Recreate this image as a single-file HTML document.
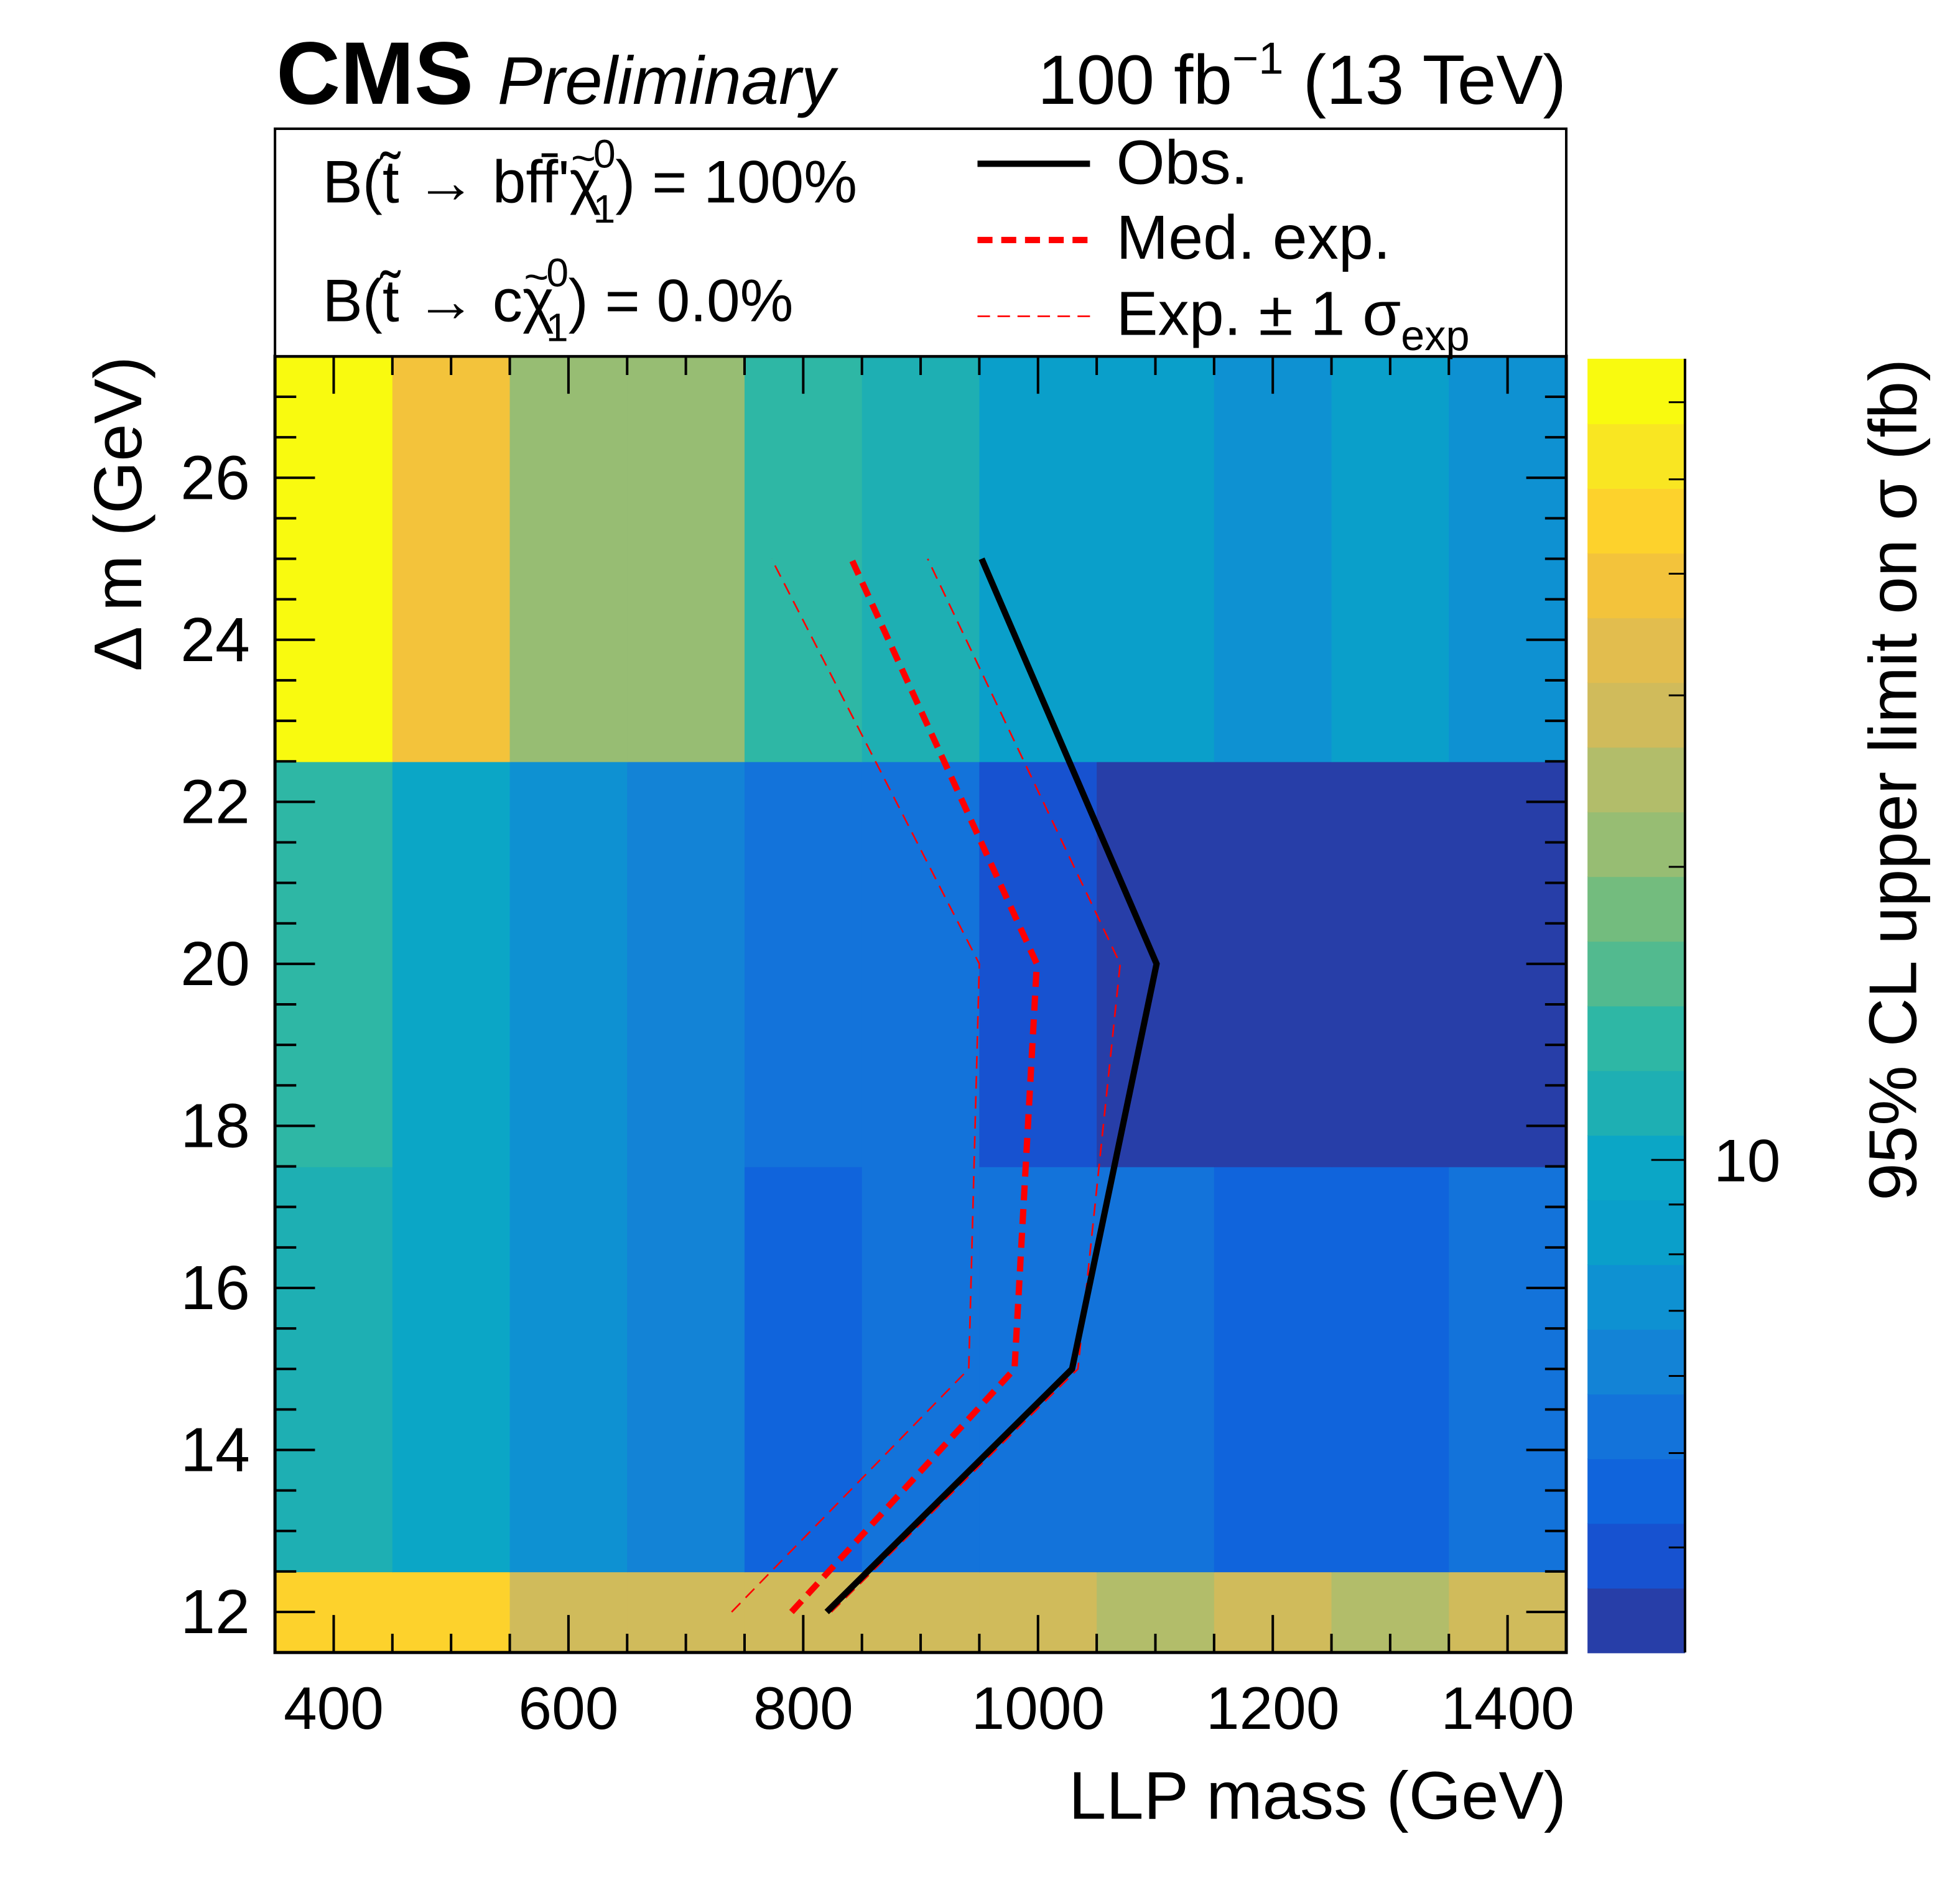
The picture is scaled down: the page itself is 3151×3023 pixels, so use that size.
<!DOCTYPE html>
<html><head><meta charset="utf-8"><style>
html,body{margin:0;padding:0;background:#fff}
svg{display:block}
text{font-family:"Liberation Sans",Arial,sans-serif;fill:#000}
</style></head><body>
<svg id="chart" width="3151" height="3023" viewBox="0 0 1568 1504" preserveAspectRatio="none" xmlns="http://www.w3.org/2000/svg">
<g id="cells"></g>
<g id="curves"></g>
<g id="axes"></g>
<g id="cbar"></g>
<rect x="220" y="103" width="1033" height="182" fill="#fff" stroke="#000" stroke-width="2"/>
<text x="221" y="83" font-size="71" font-weight="bold">CMS</text>
<text x="398" y="83" font-size="54" font-style="italic">Preliminary</text>
<text x="1253" y="83" font-size="56" text-anchor="end">100 fb<tspan dy="-24" font-size="36">−1</tspan><tspan dy="24"> (13 TeV)</tspan></text>
<text x="258" y="162" font-size="48">B(t̃ → bff̄'χ<tspan dx="-24" dy="-24" font-size="34">~</tspan><tspan dx="-2" dy="-4" font-size="32">0</tspan><tspan dx="-18" dy="44" font-size="32">1</tspan><tspan dy="-16">) = 100%</tspan></text>
<text x="258" y="257" font-size="48">B(t̃ → cχ<tspan dx="-24" dy="-24" font-size="34">~</tspan><tspan dx="-2" dy="-4" font-size="32">0</tspan><tspan dx="-18" dy="44" font-size="32">1</tspan><tspan dy="-16">) = 0.0%</tspan></text>
<line x1="782" y1="131" x2="872" y2="131" stroke="#000" stroke-width="5"/>
<text x="893" y="147" font-size="50">Obs.</text>
<line x1="782" y1="192" x2="872" y2="192" stroke="#f00" stroke-width="5" stroke-dasharray="12,7"/>
<text x="893" y="207" font-size="50">Med. exp.</text>
<line x1="782" y1="253" x2="872" y2="253" stroke="#f00" stroke-width="1.3" stroke-dasharray="10,6"/>
<text x="893" y="268" font-size="50">Exp. ± 1 σ<tspan dy="12" font-size="34">exp</tspan></text>
<text x="1253" y="1455" font-size="54" text-anchor="end">LLP mass (GeV)</text>
<text transform="translate(113,285) rotate(-90)" font-size="54" text-anchor="end">Δ m (GeV)</text>
<text transform="translate(1533,287) rotate(-90)" font-size="54" text-anchor="end">95% CL upper limit on σ (fb)</text>
</svg>
<script>
const massBins = [400,500,600,700,800,900,1000,1100,1200,1300,1400];
const dmBins = [12,15,20,25];
const limits12 = [44,44,28,28,28,28,28,24,28,24,28];
const limits15 = [11.2,9.6,7.1,6.1,4.5,5.2,5.2,5.2,4.5,4.5,5.2];
const limits20 = [13,9.6,7.1,6.1,5.2,5.2,3.8,3.3,3.3,3.3,3.3];
const limits25 = [60,38,20.5,20.5,13,11.2,8.2,8.2,7.1,8.2,7.1];
const obsDm = [12,15,20,25];
const obsMass = [820,1029,1101,952];
const medMass = [790,980,999,841];
const expDownMass = [739,941,950,773];
const expUpMass = [824,1034,1070,906];
const xTickLabels = [400,600,800,1000,1200,1400];
const yTickLabels = [12,14,16,18,20,22,24,26];
const zTickLabels = [10];
const zMinorTicks = [4,5,6,7,8,9,20,30,40,50,60];
const palette = ["#273ea8","#1752d0","#1064dc","#1373da","#1383d6","#0e91d2","#0a9fca","#0ba6c6","#1eafb3","#2eb7a5","#52ba8f","#73bc7e","#97bd73","#b2bd6a","#d0bb5b","#e2bd4e","#f3c33b","#fdd22c","#f9e622","#f9fa0f"];

const NS="http://www.w3.org/2000/svg";
const X0=220,X1=1253,Y0=285,Y1=1322;
const xMin=350,xMax=1450,yMin=11.5,yMax=27.5;
const zMin=3.12,zMax=66.5,CB0=1270,CB1=1348,CBT=287,CBB=1322;
const sx=m=>X0+(m-xMin)/(xMax-xMin)*(X1-X0);
const sy=d=>Y1-(d-yMin)/(yMax-yMin)*(Y1-Y0);
const sz=v=>CBB-(Math.log10(v)-Math.log10(zMin))/(Math.log10(zMax)-Math.log10(zMin))*(CBB-CBT);
function colorOf(v){let f=(Math.log10(v)-Math.log10(zMin))/(Math.log10(zMax)-Math.log10(zMin));let i=Math.floor(f*palette.length);i=Math.max(0,Math.min(palette.length-1,i));return palette[i];}
function mk(tag,attrs,parent){const e=document.createElementNS(NS,tag);for(const k in attrs)e.setAttribute(k,attrs[k]);parent.appendChild(e);return e;}
const dmEdges=[11.5,12.5,17.5,22.5,27.5];
const rows=[limits12,limits15,limits20,limits25];
const cells=document.getElementById('cells');
rows.forEach((row,r)=>{row.forEach((v,c)=>{
  const m=massBins[c];
  const e=mk('rect',{x:sx(m-50),y:sy(dmEdges[r+1]),width:sx(m+50)-sx(m-50)+0.6,height:sy(dmEdges[r])-sy(dmEdges[r+1])+0.6,fill:colorOf(v)},cells);
  
  
});});
const curves=document.getElementById('curves');
function curve(arr,name,w,dash){
  const pts=arr.map((m,i)=>sx(m)+','+sy(obsDm[i])).join(' ');
  const e=mk('polyline',{points:pts,fill:'none',stroke:name==='observed-limit'?'#000':'#f00','stroke-width':w},curves);
  if(dash)e.setAttribute('stroke-dasharray',dash);
  
  
}
curve(expDownMass,'expected-minus-1sigma',1.3,'10,6');
curve(expUpMass,'expected-plus-1sigma',1.3,'10,6');
curve(medMass,'median-expected-limit',5,'12,7');
curve(obsMass,'observed-limit',5,null);
const axes=document.getElementById('axes');
for(let m=350;m<=1450;m+=50){
  const major=m%200===0;const L=major?30:15;
  mk('line',{x1:sx(m),y1:Y1,x2:sx(m),y2:Y1-L,stroke:'#000','stroke-width':2},axes);
  mk('line',{x1:sx(m),y1:Y0,x2:sx(m),y2:Y0+L,stroke:'#000','stroke-width':2},axes);
}
for(let d=11.5;d<=27.5;d+=0.5){
  const major=Math.abs(d%2)<1e-6;const L=major?32:17;
  mk('line',{x1:X0,y1:sy(d),x2:X0+L,y2:sy(d),stroke:'#000','stroke-width':2},axes);
  mk('line',{x1:X1,y1:sy(d),x2:X1-L,y2:sy(d),stroke:'#000','stroke-width':2},axes);
}
mk('rect',{x:X0,y:Y0,width:X1-X0,height:Y1-Y0,fill:'none',stroke:'#000','stroke-width':2.5},axes);
xTickLabels.forEach(v=>{const t=mk('text',{x:sx(v),y:1383,'font-size':48,'text-anchor':'middle'},axes);t.textContent=v;
  
  });
yTickLabels.forEach(v=>{const t=mk('text',{x:200,y:sy(v)+17,'font-size':50,'text-anchor':'end'},axes);t.textContent=v;
  
  });
const cb=document.getElementById('cbar');
const n=palette.length;
palette.forEach((c,i)=>{const h=(CBB-CBT)/n;const e=mk('rect',{x:CB0,y:CBB-(i+1)*h,width:CB1-CB0,height:h+0.6,fill:c},cb);
  
  });
mk('line',{x1:CB1,y1:CBT,x2:CB1,y2:CBB,stroke:'#000','stroke-width':2},cb);
zMinorTicks.forEach(v=>{const y=sz(v);if(y>CBT&&y<CBB)mk('line',{x1:CB1-13,y1:y,x2:CB1,y2:y,stroke:'#000','stroke-width':1.5},cb);});
zTickLabels.forEach(v=>{const y=sz(v);mk('line',{x1:CB1-27,y1:y,x2:CB1,y2:y,stroke:'#000','stroke-width':1.5},cb);
  const t=mk('text',{x:1371,y:y+17,'font-size':48},cb);t.textContent=v;
  
  });
</script>
</body></html>
